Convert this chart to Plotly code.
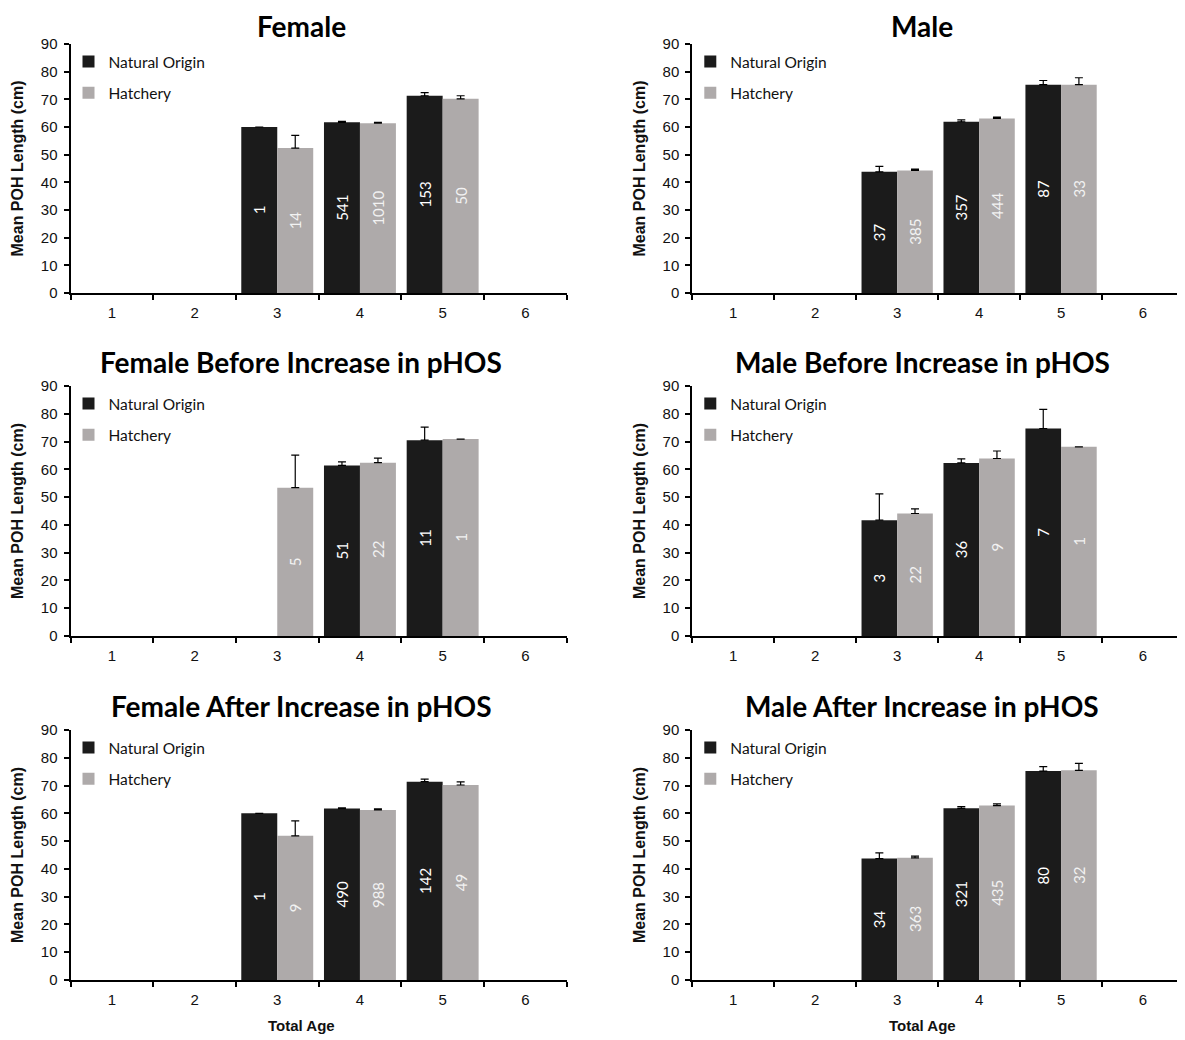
import plotly.graph_objects as go

# page offset of the figure inside the browser (default body margin)
OFF = 8
W, H = 1185 - OFF, 1040 - OFF

ages = ["1", "2", "3", "4", "5", "6"]
series_names = ["Natural Origin", "Hatchery"]

titles = [
    "Female", "Male",
    "Female Before Increase in pHOS", "Male Before Increase in pHOS",
    "Female After Increase in pHOS", "Male After Increase in pHOS",
]

# Mean POH length (cm) per age; None = no fish
female_no = [None, None, 60.0, 61.7, 71.3, None]
female_h = [None, None, 52.4, 61.4, 70.2, None]
female_no_err = [0, 0, 0, 0.3, 1.1, 0]
female_h_err = [0, 0, 4.6, 0.3, 1.1, 0]
female_no_n = ["", "", "1", "541", "153", ""]
female_h_n = ["", "", "14", "1010", "50", ""]

male_no = [None, None, 43.8, 61.9, 75.3, None]
male_h = [None, None, 44.3, 63.1, 75.3, None]
male_no_err = [0, 0, 2.0, 0.7, 1.5, 0]
male_h_err = [0, 0, 0.5, 0.5, 2.5, 0]
male_no_n = ["", "", "37", "357", "87", ""]
male_h_n = ["", "", "385", "444", "33", ""]

fbef_no = [None, None, None, 61.4, 70.5, None]
fbef_h = [None, None, 53.4, 62.4, 70.9, None]
fbef_no_err = [0, 0, 0, 1.3, 4.7, 0]
fbef_h_err = [0, 0, 11.7, 1.6, 0, 0]
fbef_no_n = ["", "", "", "51", "11", ""]
fbef_h_n = ["", "", "5", "22", "1", ""]

mbef_no = [None, None, 41.7, 62.3, 74.7, None]
mbef_h = [None, None, 44.1, 63.9, 68.1, None]
mbef_no_err = [0, 0, 9.5, 1.5, 6.9, 0]
mbef_h_err = [0, 0, 1.7, 2.7, 0, 0]
mbef_no_n = ["", "", "3", "36", "7", ""]
mbef_h_n = ["", "", "22", "9", "1", ""]

faft_no = [None, None, 60.0, 61.7, 71.4, None]
faft_h = [None, None, 51.9, 61.2, 70.2, None]
faft_no_err = [0, 0, 0, 0.3, 0.9, 0]
faft_h_err = [0, 0, 5.4, 0.4, 1.1, 0]
faft_no_n = ["", "", "1", "490", "142", ""]
faft_h_n = ["", "", "9", "988", "49", ""]

maft_no = [None, None, 43.7, 61.8, 75.2, None]
maft_h = [None, None, 44.0, 62.8, 75.5, None]
maft_no_err = [0, 0, 2.1, 0.6, 1.6, 0]
maft_h_err = [0, 0, 0.6, 0.6, 2.5, 0]
maft_no_n = ["", "", "34", "321", "80", ""]
maft_h_n = ["", "", "363", "435", "32", ""]

panels = [
    (female_no, female_h, female_no_err, female_h_err, female_no_n, female_h_n),
    (male_no, male_h, male_no_err, male_h_err, male_no_n, male_h_n),
    (fbef_no, fbef_h, fbef_no_err, fbef_h_err, fbef_no_n, fbef_h_n),
    (mbef_no, mbef_h, mbef_no_err, mbef_h_err, mbef_no_n, mbef_h_n),
    (faft_no, faft_h, faft_no_err, faft_h_err, faft_no_n, faft_h_n),
    (maft_no, maft_h, maft_no_err, maft_h_err, maft_no_n, maft_h_n),
]

NO_COLOR = "#1b1b1b"
H_COLOR = "#aeaaaa"

# screen-pixel geometry of plot areas
col_x = [(70.5, 566.7), (692.3, 1184.0)]
row_y = [(44, 293), (386, 636), (730, 980)]
title_y = [20, 362, 706]
title_cx = [301, 922]


def px_x(p):
    return (p - OFF) / W


def px_y(p):
    return 1 - (p - OFF) / H


fig = go.Figure()
layout = dict(
    width=W, height=H,
    margin=dict(l=0, r=0, t=0, b=0, pad=0, autoexpand=False),
    paper_bgcolor="white", plot_bgcolor="white",
    barmode="group", bargap=0.13, bargroupgap=0,
    font=dict(family="Arial", color="#111111"),
    annotations=[],
    showlegend=True,
)

for i, (no, h, no_e, h_e, no_n, h_n) in enumerate(panels):
    r, c = divmod(i, 2)
    k = i + 1
    xa = "x" if k == 1 else f"x{k}"
    ya = "y" if k == 1 else f"y{k}"
    lg = "legend" if k == 1 else f"legend{k}"
    x0, x1 = col_x[c]
    yt, yb = row_y[r]
    for name, vals, errs, labs, color, tcol in [
        (series_names[0], no, no_e, no_n, NO_COLOR, "white"),
        (series_names[1], h, h_e, h_n, H_COLOR, "#f2f2f2"),
    ]:
        fig.add_trace(go.Bar(
            x=ages, y=vals, name=name, xaxis=xa, yaxis=ya,
            legend=lg, legendgroup=f"{name}{k}",
            marker=dict(color=color, line=dict(width=0)),
            text=labs, textposition="inside", insidetextanchor="middle",
            textangle=-90, constraintext="none",
            textfont=dict(family="Lato", size=15, color=tcol),
            error_y=dict(type="data", array=errs, arrayminus=[0] * len(errs),
                         symmetric=False, color="black", thickness=1.2, width=4),
        ))
    layout[("xaxis" if k == 1 else f"xaxis{k}")] = dict(
        domain=[px_x(x0), min(px_x(x1), 1.0)], anchor=ya, type="category",
        categoryorder="array", categoryarray=ages,
        showline=True, linecolor="black", linewidth=2,
        ticks="outside", tickson="boundaries", ticklen=5, tickwidth=1.5, tickcolor="black",
        ticklabelstandoff=5,
        tickfont=dict(family="Arial", size=15, color="#111111"),
        showgrid=False, zeroline=False, fixedrange=True,
    )
    layout[("yaxis" if k == 1 else f"yaxis{k}")] = dict(
        domain=[px_y(yb), px_y(yt)], anchor=xa,
        range=[0, 90], dtick=10, tick0=0,
        showline=True, linecolor="black", linewidth=2,
        ticks="outside", ticklen=5, tickwidth=1.5, tickcolor="black",
        ticklabelstandoff=3,
        tickfont=dict(family="Arial", size=15, color="#111111"),
        showgrid=False, zeroline=False, fixedrange=True,
        title=dict(text="<b>Mean POH Length (cm)</b>", standoff=13,
                   font=dict(family="Arial", size=16, color="#111111")),
    )
    layout[lg] = dict(
        x=px_x(x0 - 2), y=px_y(yt + 1), xanchor="left", yanchor="top",
        bgcolor="rgba(0,0,0,0)", borderwidth=0,
        font=dict(family="Lato", size=15.5, color="#111111"),
        tracegroupgap=8, traceorder="grouped",
    )
    if r == 0:
        # top row: keep the title box inside the page
        ann_pos = dict(y=1.0, yanchor="top", borderpad=0)
    else:
        ann_pos = dict(y=px_y(title_y[r]), yanchor="middle")
    layout["annotations"].append(dict(
        text=f"<b>{titles[i]}</b>", x=px_x(title_cx[c]),
        xref="paper", yref="paper", xanchor="center",
        showarrow=False, font=dict(family="Lato", size=28, color="black"),
        **ann_pos,
    ))
    if r == 2:
        layout["annotations"].append(dict(
            text="<b>Total Age</b>", x=px_x(title_cx[c]), y=px_y(1025),
            xref="paper", yref="paper", xanchor="center", yanchor="middle",
            showarrow=False, font=dict(family="Arial", size=15, color="#111111"),
        ))

fig.update_layout(**layout)
fig.write_html("out.html")
